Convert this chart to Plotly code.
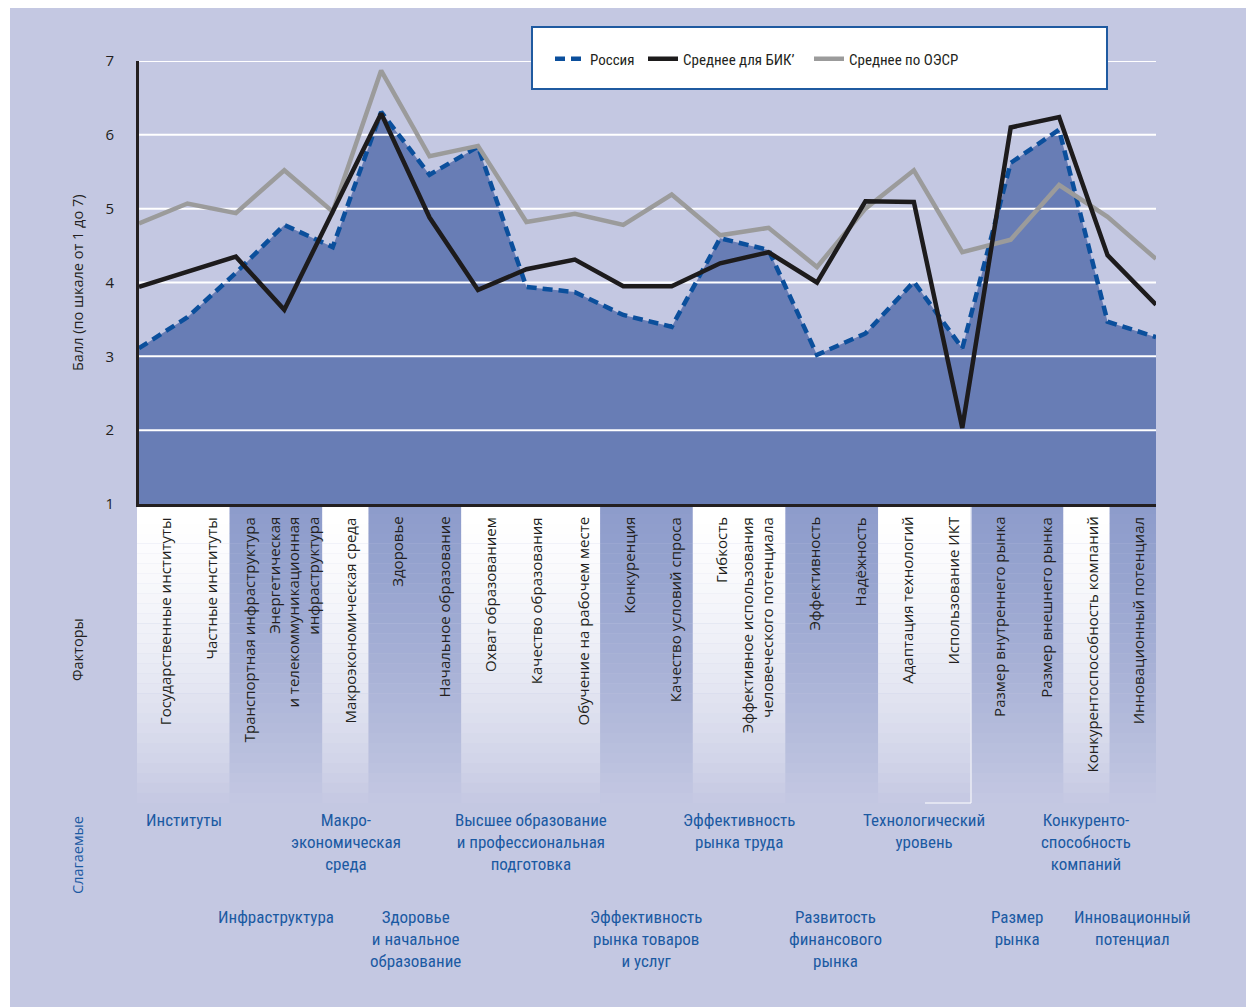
import plotly.graph_objects as go

# ---------------- data ----------------
factors = [
    "Государственные институты", "Частные институты", "Транспортная инфраструктура",
    "Энергетическая<br>и телекоммуникационная<br>инфраструктура", "Макроэкономическая среда",
    "Здоровье", "Начальное образование", "Охват образованием", "Качество образования",
    "Обучение на рабочем месте", "Конкуренция", "Качество условий спроса", "Гибкость",
    "Эффективное использования<br>человеческого потенциала", "Эффективность", "Надёжность",
    "Адаптация технологий", "Использование ИКТ", "Размер внутреннего рынка",
    "Размер внешнего рынка", "Конкурентоспособность компаний", "Инновационный потенциал",
]
russia = [3.11, 3.53, 4.13, 4.78, 4.48, 6.31, 5.46, 5.84, 3.94, 3.87, 3.56,
          3.40, 4.60, 4.44, 3.02, 3.31, 4.01, 3.11, 5.62, 6.07, 3.47, 3.26]
bik = [3.94, 4.14, 4.35, 3.63, 4.95, 6.29, 4.88, 3.90, 4.18, 4.31, 3.95,
       3.95, 4.26, 4.41, 4.00, 5.10, 5.09, 2.03, 6.10, 6.24, 4.37, 3.70]
oecd = [4.80, 5.07, 4.94, 5.52, 4.96, 6.87, 5.71, 5.85, 4.82, 4.93, 4.78,
        5.19, 4.64, 4.74, 4.21, 5.00, 5.52, 4.41, 4.58, 5.32, 4.89, 4.32]
yticks = [1, 2, 3, 4, 5, 6, 7]
series_names = ["Россия", "Среднее для БИК’", "Среднее по ОЭСР"]
groups_row1 = ["Институты", "Макро-<br>экономическая<br>среда",
               "Высшее образование<br>и профессиональная<br>подготовка",
               "Эффективность<br>рынка труда", "Технологический<br>уровень",
               "Конкуренто-<br>способность<br>компаний"]
groups_row2 = ["Инфраструктура", "Здоровье<br>и начальное<br>образование",
               "Эффективность<br>рынка товаров<br>и услуг", "Развитость<br>финансового<br>рынка",
               "Размер<br>рынка", "Инновационный<br>потенциал"]
band_types = "WWDDWDDWWWDDWWDDWWDDWD"

# ---------------- layout geometry (page pixels; figure sits at 8px body margin) ----------------
OFF = 8
W, H = 1254 - OFF, 1007 - OFF
L, R, T, B = 139, 1156, 61, 504
BAND_TOP, BAND_BOT = 504, 803
COL_L = 137
COL_W = (R - COL_L) / len(factors)

LAV = (196, 200, 226)
FILL = "#687db5"
BLUE = "#1b5aa2"
TXT = "#231f20"
COND = "Liberation Sans Narrow, Roboto Condensed, Roboto, sans-serif"
REG = "Open Sans, Noto Sans, sans-serif"


def xp(px):
    return (px - L) / (R - L)


def yp(py):
    return (B - py) / (B - T)


def rgb(c1, c2=None, t=0.0):
    c2 = c2 or c1
    return "rgb(%d,%d,%d)" % tuple(round(a + (b - a) * t) for a, b in zip(c1, c2))


fig = go.Figure()

# area under Russia
fig.add_trace(go.Scatter(x=factors, y=russia, fill="tozeroy", mode="none",
                         fillcolor=FILL, showlegend=False, hoverinfo="skip"))
# white grid lines above the area fill
gx, gy = [], []
for v in yticks[1:]:
    gx += [factors[0], factors[-1], None]
    gy += [v, v, None]
fig.add_trace(go.Scatter(x=gx, y=gy, mode="lines", line=dict(color="white", width=2),
                         showlegend=False, hoverinfo="skip"))

fig.add_trace(go.Scatter(x=factors, y=russia, mode="lines", name=series_names[0],
                         line=dict(color="#0b4f9c", width=4.5, dash="10px,6px"),
                         legend="legend", cliponaxis=False))
fig.add_trace(go.Scatter(x=factors, y=oecd, mode="lines", name=series_names[2],
                         line=dict(color="#9b9b9b", width=4.5), legend="legend3", cliponaxis=False))
fig.add_trace(go.Scatter(x=factors, y=bik, mode="lines", name=series_names[1],
                         line=dict(color="#1d1b1c", width=4.5), legend="legend2", cliponaxis=False))

shapes = []
# outer lavender background
shapes.append(dict(type="rect", xref="paper", yref="paper", x0=xp(10), x1=xp(1260),
                   y0=yp(1012), y1=yp(8), fillcolor=rgb(LAV), line_width=0, layer="below"))

# gradient bands under category labels
runs = []
start = 0
for i in range(1, len(band_types) + 1):
    if i == len(band_types) or band_types[i] != band_types[start]:
        runs.append((start, i, band_types[start]))
        start = i
N = 30
for s, e, t in runs:
    top = (255, 255, 255) if t == "W" else (141, 156, 203)
    x0 = xp(COL_L + s * COL_W)
    x1 = xp(COL_L + e * COL_W)
    for k in range(N):
        ya = BAND_TOP + (BAND_BOT - BAND_TOP) * k / N
        yb = BAND_TOP + (BAND_BOT - BAND_TOP) * (k + 1) / N
        f = ((k + 0.5) / N) ** (1.6 if t == "W" else 1.2)
        shapes.append(dict(type="rect", xref="paper", yref="paper", x0=x0, x1=x1,
                           y0=yp(yb), y1=yp(ya) + 0.0005, fillcolor=rgb(top, LAV, f),
                           line_width=0, layer="below"))
# small white artifact lines near ICT column
shapes.append(dict(type="line", xref="paper", yref="paper", x0=xp(971), x1=xp(971),
                   y0=yp(803), y1=yp(505), line=dict(color="white", width=1), layer="below"))
shapes.append(dict(type="line", xref="paper", yref="paper", x0=xp(925), x1=xp(971),
                   y0=yp(803), y1=yp(803), line=dict(color="white", width=1), layer="below"))
# legend box
shapes.append(dict(type="rect", xref="paper", yref="paper", x0=xp(532), x1=xp(1107),
                   y0=yp(89), y1=yp(27), fillcolor="white",
                   line=dict(color="#1f5aa0", width=2), layer="above"))

ann = []
# category labels (rotated)
offsets = {2: -9, 3: -11, 13: -10}
for i, name in enumerate(factors):
    cx = COL_L + (i + 0.5) * COL_W + 5 + offsets.get(i, 0)
    ann.append(dict(text=name, x=xp(cx), y=yp(515), xref="paper", yref="paper",
                    textangle=-90, xanchor="center", yanchor="top", align="right",
                    showarrow=False, font=dict(family=REG, size=15, color=TXT)))

row1_x = [184, 346, 531, 739, 924, 1086]
row2_x = [276, 415, 646, 835, 1017, 1132]
for txt, cx in zip(groups_row1, row1_x):
    ann.append(dict(text=txt, x=xp(cx), y=yp(808), xref="paper", yref="paper",
                    xanchor="center", yanchor="top", align="center", showarrow=False,
                    font=dict(family=COND, size=17, color=BLUE)))
for txt, cx in zip(groups_row2, row2_x):
    ann.append(dict(text=txt, x=xp(cx), y=yp(905), xref="paper", yref="paper",
                    xanchor="center", yanchor="top", align="center", showarrow=False,
                    font=dict(family=COND, size=17, color=BLUE)))

for txt, cy, col in [("Балл (по шкале от 1 до 7)", 283, TXT), ("Факторы", 650, TXT),
                     ("Слагаемые", 855, BLUE)]:
    ann.append(dict(text=txt, x=xp(77), y=yp(cy), xref="paper", yref="paper",
                    xanchor="center", yanchor="middle", textangle=-90, showarrow=False,
                    font=dict(family=REG, size=14.5, color=col)))

leg_common = dict(orientation="h", yanchor="middle", xanchor="left", bgcolor="rgba(0,0,0,0)",
                  borderwidth=0, font=dict(family=COND, size=15, color=TXT), itemwidth=30)

fig.update_layout(
    width=W, height=H, autosize=False,
    margin=dict(l=L - OFF, r=W - (R - OFF), t=T - OFF, b=H - (B - OFF), pad=0),
    paper_bgcolor="white", plot_bgcolor=rgb(LAV),
    shapes=shapes, annotations=ann,
    showlegend=True,
    legend=dict(x=xp(550), y=yp(59), **leg_common),
    legend2=dict(x=xp(643), y=yp(59), **leg_common),
    legend3=dict(x=xp(809), y=yp(59), **leg_common),
    xaxis=dict(type="category", range=[0, len(factors) - 1], showticklabels=False,
               showgrid=False, zeroline=False, showline=True, linecolor=TXT, linewidth=3,
               ticks=""),
    yaxis=dict(range=[yticks[0], yticks[-1]], tickvals=yticks, showgrid=False, zeroline=False,
               showline=True, linecolor=TXT, linewidth=3, ticks="", ticklabelstandoff=19,
               tickfont=dict(family=REG, size=15, color=TXT)),
)

fig.write_html("out.html")
